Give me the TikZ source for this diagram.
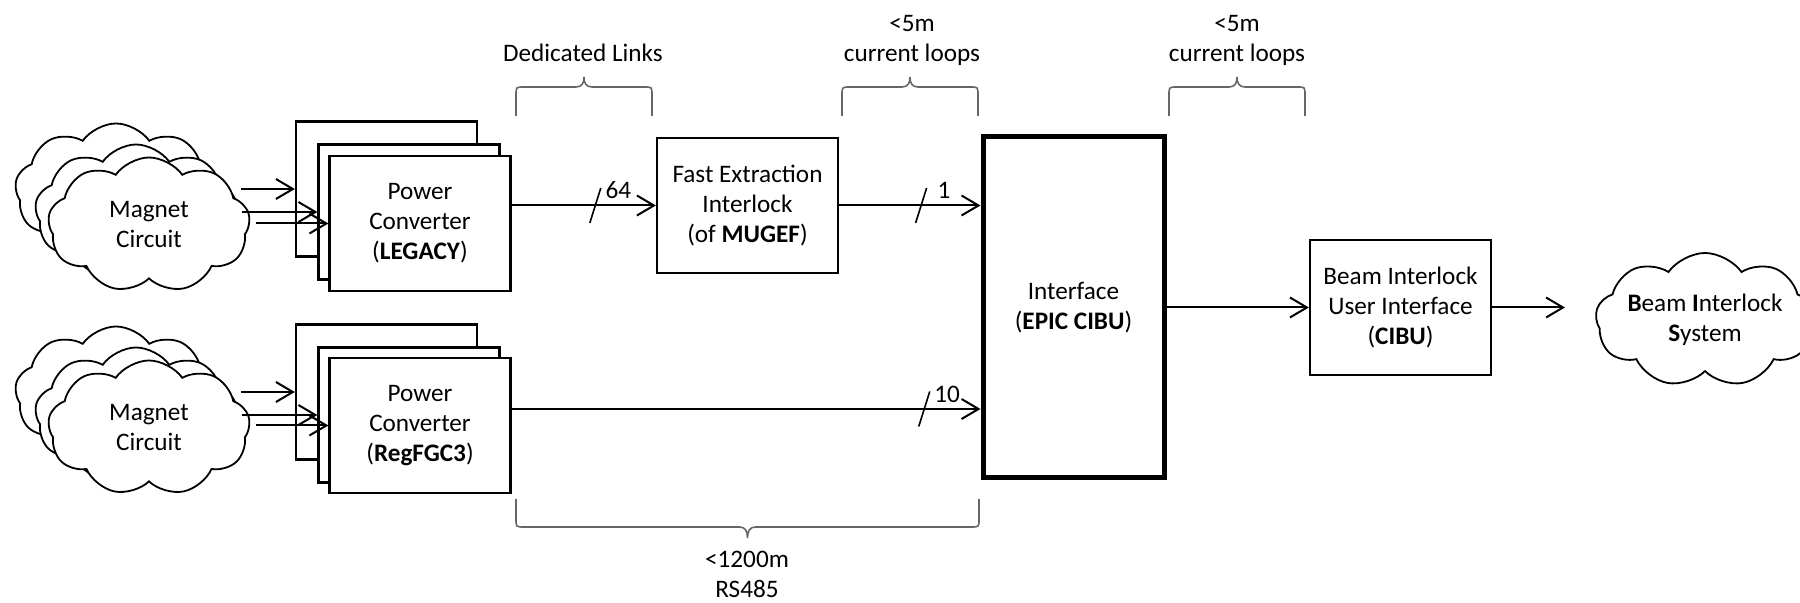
\documentclass[tikz,border=0pt]{standalone}
\usepackage{fontspec}
\setmainfont{Carlito}
\usetikzlibrary{shapes.symbols, arrows.meta}

\tikzset{
  txt/.style={font=\fontsize{12.6}{15}\selectfont, align=center},
  block/.style={txt, draw, line width=1.1pt, fill=white, minimum width=90.5pt, minimum height=67.5pt, inner sep=0pt},
  magnet/.style={txt, cloud, draw, line width=0.9pt, fill=white, cloud puffs=9, cloud puff arc=110, cloud ignores aspect, minimum width=101pt, minimum height=67.5pt, inner sep=0pt},
  link/.style={line width=1pt, -{Straight Barb[length=8.5pt, width=10pt]}},
  brace/.style={draw=black!60, line width=0.8pt},
  pics/bus/.style={code={
    \draw[-, line width=0.8pt] (-5.5,17.5) -- (5.5,-17.5);
    \node[txt, inner sep=0pt] at (23,-15) {#1};
  }},
}

% brace with legs: left x, right x, leg end y, bar y, tip y
\newcommand{\spanbrace}[5]{%
  \draw[brace] (#1,#3) -- (#1,{#4+0.28*(#3-#4)}) .. controls (#1,#4) .. ({#1+8},#4)
    -- ({(#1+#2)/2-8},#4) .. controls ({(#1+#2)/2-2},#4) and ({(#1+#2)/2},{#4+0.4*(#5-#4)}) .. ({(#1+#2)/2},#5)
    .. controls ({(#1+#2)/2},{#4+0.4*(#5-#4)}) and ({(#1+#2)/2+2},#4) .. ({(#1+#2)/2+8},#4)
    -- ({#2-8},#4) .. controls (#2,#4) .. (#2,{#4+0.28*(#3-#4)}) -- (#2,#3);
}

\begin{document}
\begin{tikzpicture}[x=0.5pt, y=-0.5pt]
        \useasboundingbox (0,0) rectangle (1800,603);
        \clip (0,0) rectangle (1800,603);

        % Magnet circuits
        \node[magnet] (mcA1) at (116,191) {};
        \node[magnet] (mcB1) at (136,212) {};
        \node[magnet] (mc1) at (149,225) {Magnet\\Circuit};
        \node[magnet] (mcA2) at (116,394) {};
        \node[magnet] (mcB2) at (136,415) {};
        \node[magnet] (mc2) at (149,428) {Magnet\\Circuit};

        % Power converters
        \node[block] (pcA1) at (386.5,189) {};
        \node[block] (pcB1) at (409,212) {};
        \node[block] (pcC1) at (420,223.5) {Power\\Converter\\(\textbf{LEGACY})};
        \node[block] (pcA2) at (386.5,392) {};
        \node[block] (pcB2) at (409,415) {};
        \node[block] (pcC2) at (420,425.5) {Power\\Converter\\(\textbf{RegFGC3})};

        % Interlock chain
        \node[block] (fei) at (747.5,205.5) {Fast Extraction\\Interlock\\(of \textbf{MUGEF})};
        \node[block, line width=2.5pt, minimum height=170.5pt] (iface) at (1073.5,307.5) {Interface\\(\textbf{EPIC CIBU})};
        \node[block] (cibu) at (1400.5,307.5) {Beam Interlock\\User Interface\\(\textbf{CIBU})};
        \node[magnet, minimum width=103pt, minimum height=67pt] (bis) at (1705,320) {\textbf{B}eam \textbf{I}nterlock\\\textbf{S}ystem};

        \coordinate (rs) at ([yshift=8.25pt]pcC2.east);
        \coordinate (bisin) at (1565,307.5);

        % Links
        \draw[link] ([xshift=-27pt]pcA1.west) -- (pcA1.west);
        \draw[link] ([xshift=-37.5pt]pcB1.west) -- (pcB1.west);
        \draw[link] ([xshift=-36pt]pcC1.west) -- (pcC1.west);
        \draw[link] ([xshift=-27pt]pcA2.west) -- (pcA2.west);
        \draw[link] ([xshift=-37.5pt]pcB2.west) -- (pcB2.west);
        \draw[link] ([xshift=-36pt]pcC2.west) -- (pcC2.west);
        \draw[link] (pcC1.east |- fei.west) -- (fei.west) pic[pos=0.58]{bus=64};
        \draw[link] (fei.east) -- (fei.east -| iface.west) pic[pos=0.58]{bus=1};
        \draw[link] (rs) -- (rs -| iface.west) pic[pos=0.88]{bus=10};
        \draw[link] (iface.east) -- (cibu.west);
        \draw[link] (cibu.east) -- (bisin);

        % Braces
        \spanbrace{516}{652}{116}{87}{77}
        \spanbrace{842}{978}{116}{87}{77}
        \spanbrace{1169}{1305}{116}{87}{77}
        \spanbrace{516}{979}{499}{527}{538}

        \node[txt] (dl) at (583,53) {Dedicated Links};
        \node[txt] (cl1) at (912,40) {<5m\\current loops};
        \node[txt] (cl2) at (1237,40) {<5m\\current loops};
        \node[txt] (rs485) at (747,574) {<1200m\\RS485};
    \end{tikzpicture}
\end{document}
